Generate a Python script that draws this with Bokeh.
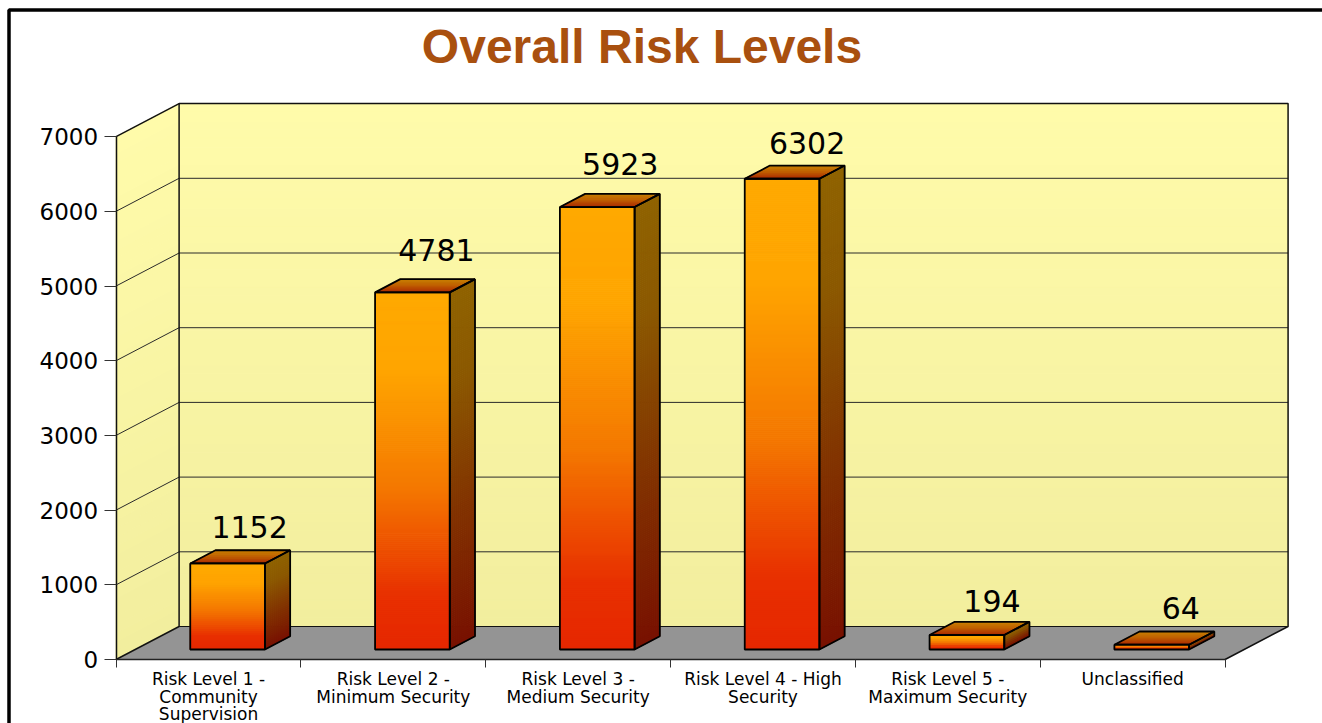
from bokeh.embed import file_html
from bokeh.resources import INLINE
from bokeh.plotting import figure
from bokeh.models import LinearAxis, FixedTicker, Range1d, Label
from bokeh.core.properties import value

# Chart data
categories = [
    "Risk Level 1 -\nCommunity\nSupervision",
    "Risk Level 2 -\nMinimum Security",
    "Risk Level 3 -\nMedium Security",
    "Risk Level 4 - High\nSecurity",
    "Risk Level 5 -\nMaximum Security",
    "Unclassified",
]
counts = [1152, 4781, 5923, 6302, 194, 64]
y_ticks = [0, 1000, 2000, 3000, 4000, 5000, 6000, 7000]
chart_title = "Overall Risk Levels"

# Scale of the plot: pixels per category and per unit of the value axis
PX_CAT = 184.83
PX_VAL = 0.0747
X0_PX = 115.6
Y0_PX = 659.0
WIDTH, HEIGHT = 1322, 723

# Oblique projection of the box and of the bars inside it
DEPTH_X = 63 / PX_CAT
DEPTH_Y = 33 / PX_VAL
BAR_W = 74.7 / PX_CAT
BAR_START = 0.303
BAR_DEPTH = 0.4
Y_MAX = 7000
N = len(categories)

# Hand placement of the value labels, in pixels
LABEL_SHIFT_X = [-3, -1, -2, 0, 0, 4]
LABEL_SHIFT_Y = [0, 6, 7, 0, -2, 1]


def px_x(px):
    return (px - X0_PX) / PX_CAT


def px_y(py):
    return (Y0_PX - py) / PX_VAL


def rgb(h):
    return tuple(int(h[i:i + 2], 16) for i in (1, 3, 5))


def ramp(stops, t):
    for (t0, c0), (t1, c1) in zip(stops, stops[1:]):
        if t <= t1:
            f = (t - t0) / (t1 - t0) if t1 > t0 else 0
            a, b = rgb(c0), rgb(c1)
            return "#%02x%02x%02x" % tuple(round(a[i] + (b[i] - a[i]) * f) for i in range(3))
    return stops[-1][1]


FRONT = [(0, "#ffa900"), (0.22, "#ffa500"), (0.55, "#f47800"), (0.85, "#e83000"), (1, "#e62800")]
SIDE = [(0, "#8f6200"), (0.25, "#8b5800"), (0.6, "#823400"), (1, "#781000")]
TOP = [(0, "#c88400"), (0.5, "#c06000"), (1, "#ac2c00")]
WALL = [(0, "#f2ee9e"), (1, "#fffbaa")]
FLOOR = "#949494"
INK = "#000000"

p = figure(
    width=WIDTH, height=HEIGHT, output_backend="svg", toolbar_location=None,
    x_axis_type=None, y_axis_type=None, min_border=0,
    x_range=Range1d(-X0_PX / PX_CAT, (WIDTH - X0_PX) / PX_CAT),
    y_range=Range1d((Y0_PX - HEIGHT) / PX_VAL, Y0_PX / PX_VAL),
    background_fill_color="#ffffff", border_fill_color="#ffffff",
)
p.grid.visible = False
p.outline_line_color = None


def strips(corner_fn, stops, steps):
    """Fill a shape with thin slices so that its colour ramps along t."""
    xs, ys, cols = [], [], []
    for i in range(steps):
        t0, t1 = i / steps, (i + 1) / steps
        qx, qy = corner_fn(t0, t1)
        xs.append(qx)
        ys.append(qy)
        cols.append(ramp(stops, (t0 + t1) / 2))
    p.patches(xs, ys, fill_color=cols, line_color=cols, line_width=1)


# Floor
p.patch([0, N, N + DEPTH_X, DEPTH_X], [0, 0, DEPTH_Y, DEPTH_Y], fill_color=FLOOR, line_color=None)

# Back wall and left wall
strips(lambda a, b: ([DEPTH_X, N + DEPTH_X, N + DEPTH_X, DEPTH_X],
                     [DEPTH_Y + a * Y_MAX, DEPTH_Y + a * Y_MAX, DEPTH_Y + b * Y_MAX, DEPTH_Y + b * Y_MAX]),
       WALL, 60)
strips(lambda a, b: ([0, DEPTH_X, DEPTH_X, 0],
                     [a * Y_MAX, DEPTH_Y + a * Y_MAX, DEPTH_Y + b * Y_MAX, b * Y_MAX]),
       WALL, 60)

# Grid lines run along the left wall and across the back wall
for t in y_ticks[1:-1]:
    p.line([0, DEPTH_X, N + DEPTH_X], [t, t + DEPTH_Y, t + DEPTH_Y], line_color="#2a2a2a", line_width=1)

# Box edges
EDGE = "#111111"
p.line([0, DEPTH_X, DEPTH_X, N + DEPTH_X, N + DEPTH_X, N],
       [0, DEPTH_Y, Y_MAX + DEPTH_Y, Y_MAX + DEPTH_Y, DEPTH_Y, 0],
       line_color=EDGE, line_width=1.5)
p.line([0, DEPTH_X], [Y_MAX, Y_MAX + DEPTH_Y], line_color=EDGE, line_width=1.5)
p.line([DEPTH_X, N + DEPTH_X], [DEPTH_Y, DEPTH_Y], line_color=EDGE, line_width=1)

# Bars
label_x, label_y = [], []
for i, v in enumerate(counts):
    ox = BAR_START * DEPTH_X
    oy = BAR_START * DEPTH_Y
    dx = BAR_DEPTH * DEPTH_X
    dy = BAR_DEPTH * DEPTH_Y
    cx = i + 0.5 + ox
    x0, x1 = cx - BAR_W / 2, cx + BAR_W / 2
    y0, y1 = oy, oy + v
    steps = max(4, int(v * PX_VAL / 2))

    strips(lambda a, b: ([x0, x1, x1, x0],
                         [y1 - a * v, y1 - a * v, y1 - b * v, y1 - b * v]), FRONT, steps)
    strips(lambda a, b: ([x1, x1 + dx, x1 + dx, x1],
                         [y1 - a * v, y1 - a * v + dy, y1 - b * v + dy, y1 - b * v]), SIDE, steps)
    strips(lambda a, b: ([x0 + dx * (1 - a), x1 + dx * (1 - a), x1 + dx * (1 - b), x0 + dx * (1 - b)],
                         [y1 + dy * (1 - a), y1 + dy * (1 - a), y1 + dy * (1 - b), y1 + dy * (1 - b)]), TOP, 10)

    p.patches(
        [[x0, x1, x1, x0], [x1, x1 + dx, x1 + dx, x1], [x0, x1, x1 + dx, x0 + dx]],
        [[y0, y0, y1, y1], [y0, y0 + dy, y1 + dy, y1], [y1, y1, y1 + dy, y1 + dy]],
        fill_color=None, line_color=INK, line_width=1.8,
    )
    label_x.append(cx + (25 + LABEL_SHIFT_X[i]) / PX_CAT)
    label_y.append(y1 + dy + (23 + LABEL_SHIFT_Y[i]) / PX_VAL)

# Value labels above each bar
p.text(label_x, label_y, text=[str(v) for v in counts], text_align="center",
       text_baseline="middle", text_font=value("DejaVu Sans"), text_font_size="30px",
       text_color="#000000")

# Axes sit inside the frame, on the front edge of the box
y_axis = LinearAxis(fixed_location=0, ticker=FixedTicker(ticks=y_ticks), bounds=(0, Y_MAX))
y_axis.major_tick_out = 12
y_axis.major_tick_in = 0
y_axis.minor_tick_out = 0
y_axis.minor_tick_in = 0
y_axis.major_tick_line_color = "#333333"
y_axis.axis_line_color = "#111111"
y_axis.axis_line_width = 1.5
y_axis.major_label_standoff = 6
y_axis.major_label_text_font = "DejaVu Sans"
y_axis.major_label_text_font_size = "23px"
y_axis.major_label_text_color = "#000000"
p.add_layout(y_axis, "left")

x_axis = LinearAxis(fixed_location=0, ticker=FixedTicker(ticks=list(range(N + 1))), bounds=(0, N))
x_axis.major_tick_out = 8
x_axis.major_tick_in = 0
x_axis.minor_tick_out = 0
x_axis.minor_tick_in = 0
x_axis.major_tick_line_color = "#333333"
x_axis.axis_line_color = "#222222"
x_axis.axis_line_width = 1.5
x_axis.major_label_text_color = None
p.add_layout(x_axis, "below")

# Category names centred under each span of the horizontal axis, one text per line
LINE_PX = [678.5, 696, 713]
cat_x, cat_y, cat_text = [], [], []
for i, name in enumerate(categories):
    for row, line in enumerate(name.split("\n")):
        cat_x.append(i + 0.5)
        cat_y.append(px_y(LINE_PX[row]))
        cat_text.append(line)
p.text(cat_x, cat_y, text=cat_text, text_align="center", text_baseline="middle",
       text_font=value("DejaVu Sans"), text_font_size="17px", text_color="#000000")

# Heavy page frame along the top and left edges
p.line([px_x(8.5), px_x(8.5), px_x(WIDTH)], [px_y(HEIGHT), px_y(9.5), px_y(9.5)],
       line_color="#000000", line_width=3.5)

# Title
p.add_layout(Label(x=px_x(641.5), y=px_y(46), text=chart_title, text_align="center",
                   text_baseline="middle", text_font="Liberation Sans",
                   text_font_style="bold", text_font_size="48px", text_color="#a9500f"))

open("out.html", "w").write(file_html(p, INLINE))
